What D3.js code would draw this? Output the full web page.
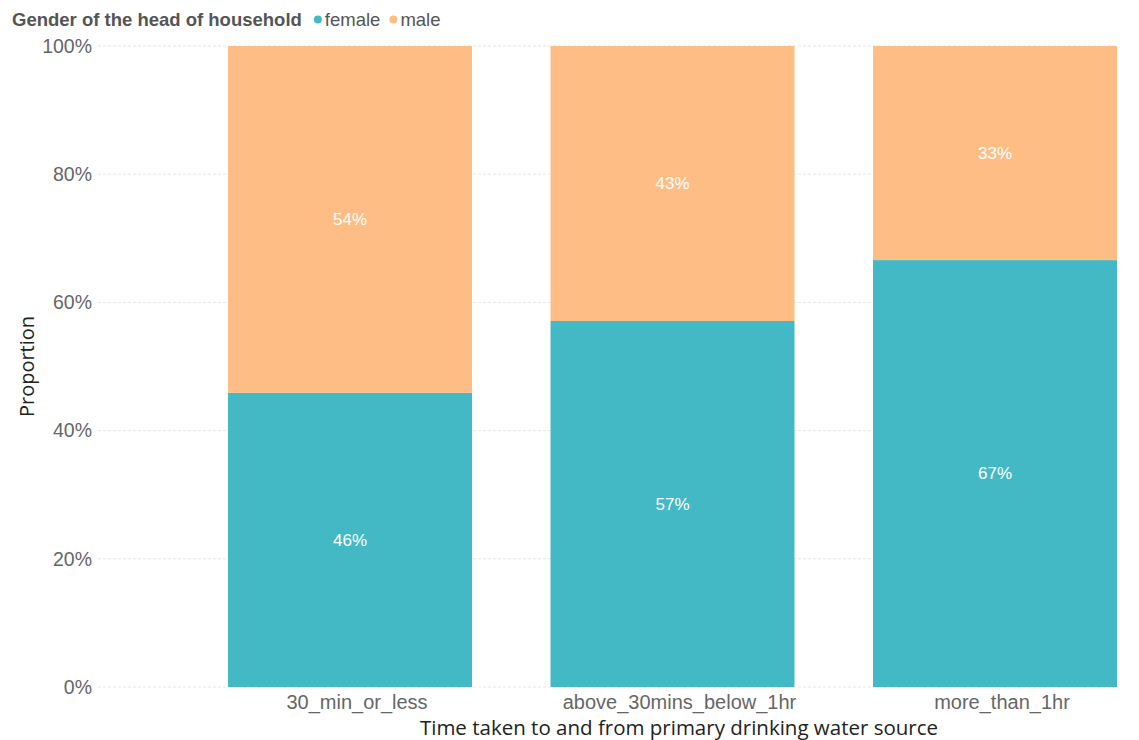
<!DOCTYPE html>
<html><head><meta charset="utf-8">
<script src="https://cdn.jsdelivr.net/npm/d3@7"></script>
<style>body{margin:0;background:#fff;} svg{display:block;}</style>
</head><body>
<svg id="chart" width="1139" height="740"></svg>
<script>
const categories = ["30_min_or_less", "above_30mins_below_1hr", "more_than_1hr"];
const female = [45.9, 57.1, 66.6];
const male = [54.1, 42.9, 33.4];
const femaleLabels = ["46%", "57%", "67%"];
const maleLabels = ["54%", "43%", "33%"];
const yTicks = [0, 20, 40, 60, 80, 100];
const seriesNames = ["female", "male"];
const colors = ["#44B9C6", "#FDBD85"];

(function () {
const svg = d3.select("#chart");
const mTop = 46, mBottom = 687, mLeft = 98, mRight = 1117;

const x = d3.scaleBand().domain(categories).range([mLeft, mRight])
  .paddingInner(0.2434).paddingOuter(0.2016).align(1);
const y = d3.scaleLinear().domain([0, 100]).range([mBottom, mTop]);

// gridlines
svg.append("g").selectAll("line").data(yTicks).join("line")
  .attr("x1", mLeft).attr("x2", mRight)
  .attr("y1", d => y(d)).attr("y2", d => y(d))
  .attr("stroke", "#e6e6e6").attr("stroke-width", 1)
  .attr("stroke-dasharray", "3,2");

// y tick labels
svg.append("g").selectAll("text").data(yTicks).join("text")
  .attr("x", 92).attr("y", d => y(d)).attr("dy", "0.35em")
  .attr("text-anchor", "end")
  .attr("font-family", "Liberation Sans, Arial, sans-serif")
  .attr("font-size", 19.5).attr("fill", "#666")
  .text(d => d + "%");

const data = categories.map((c, i) => ({cat: c, female: female[i], male: male[i], fl: femaleLabels[i], ml: maleLabels[i]}));
const stack = d3.stack().keys(seriesNames)(data);

const g = svg.append("g");
stack.forEach((s, si) => {
  g.append("g").selectAll("rect").data(s).join("rect")
    .attr("x", d => x(d.data.cat))
    .attr("width", x.bandwidth())
    .attr("y", d => y(d[1]))
    .attr("height", d => y(d[0]) - y(d[1]))
    .attr("fill", colors[si]);
  g.append("g").selectAll("text").data(s).join("text")
    .attr("x", d => x(d.data.cat) + x.bandwidth() / 2)
    .attr("y", d => (y(d[0]) + y(d[1])) / 2)
    .attr("dy", "0.35em")
    .attr("text-anchor", "middle")
    .attr("font-family", "Liberation Sans, Arial, sans-serif")
    .attr("font-size", 17).attr("fill", "#fff")
    .text(d => si === 0 ? d.data.fl : d.data.ml);
});

// x tick labels
svg.append("g").selectAll("text").data(categories).join("text")
  .attr("x", d => x(d) + x.bandwidth() / 2 + 7).attr("y", 709)
  .attr("text-anchor", "middle")
  .attr("font-family", "Liberation Sans, Arial, sans-serif")
  .attr("font-size", 20).attr("fill", "#666")
  .text(d => d);

// axis titles
svg.append("text")
  .attr("x", 679).attr("y", 735)
  .attr("text-anchor", "middle")
  .attr("font-family", "Open Sans, DejaVu Sans, sans-serif")
  .attr("font-size", 20.5).attr("fill", "#222")
  .text("Time taken to and from primary drinking water source");
svg.append("text")
  .attr("transform", `translate(34,${(mTop + mBottom) / 2}) rotate(-90)`)
  .attr("text-anchor", "middle")
  .attr("font-family", "Open Sans, DejaVu Sans, sans-serif")
  .attr("font-size", 20).attr("fill", "#222")
  .text("Proportion");

// legend
const lg = svg.append("g");
const title = lg.append("text").attr("x", 12).attr("y", 26)
  .attr("font-family", "Liberation Sans, Arial, sans-serif")
  .attr("font-size", 18.5).attr("font-weight", "bold").attr("fill", "#555")
  .text("Gender of the head of household");
let lx = 12 + title.node().getComputedTextLength() + 16;
seriesNames.forEach((n, i) => {
  lg.append("circle").attr("cx", lx).attr("cy", 19.5).attr("r", 4).attr("fill", colors[i]);
  const t = lg.append("text").attr("x", lx + 7).attr("y", 26)
    .attr("font-family", "Liberation Sans, Arial, sans-serif")
    .attr("font-size", 18.5).attr("fill", "#555").text(n);
  lx += 7 + t.node().getComputedTextLength() + 13;
});
})();
</script>
</body></html>
